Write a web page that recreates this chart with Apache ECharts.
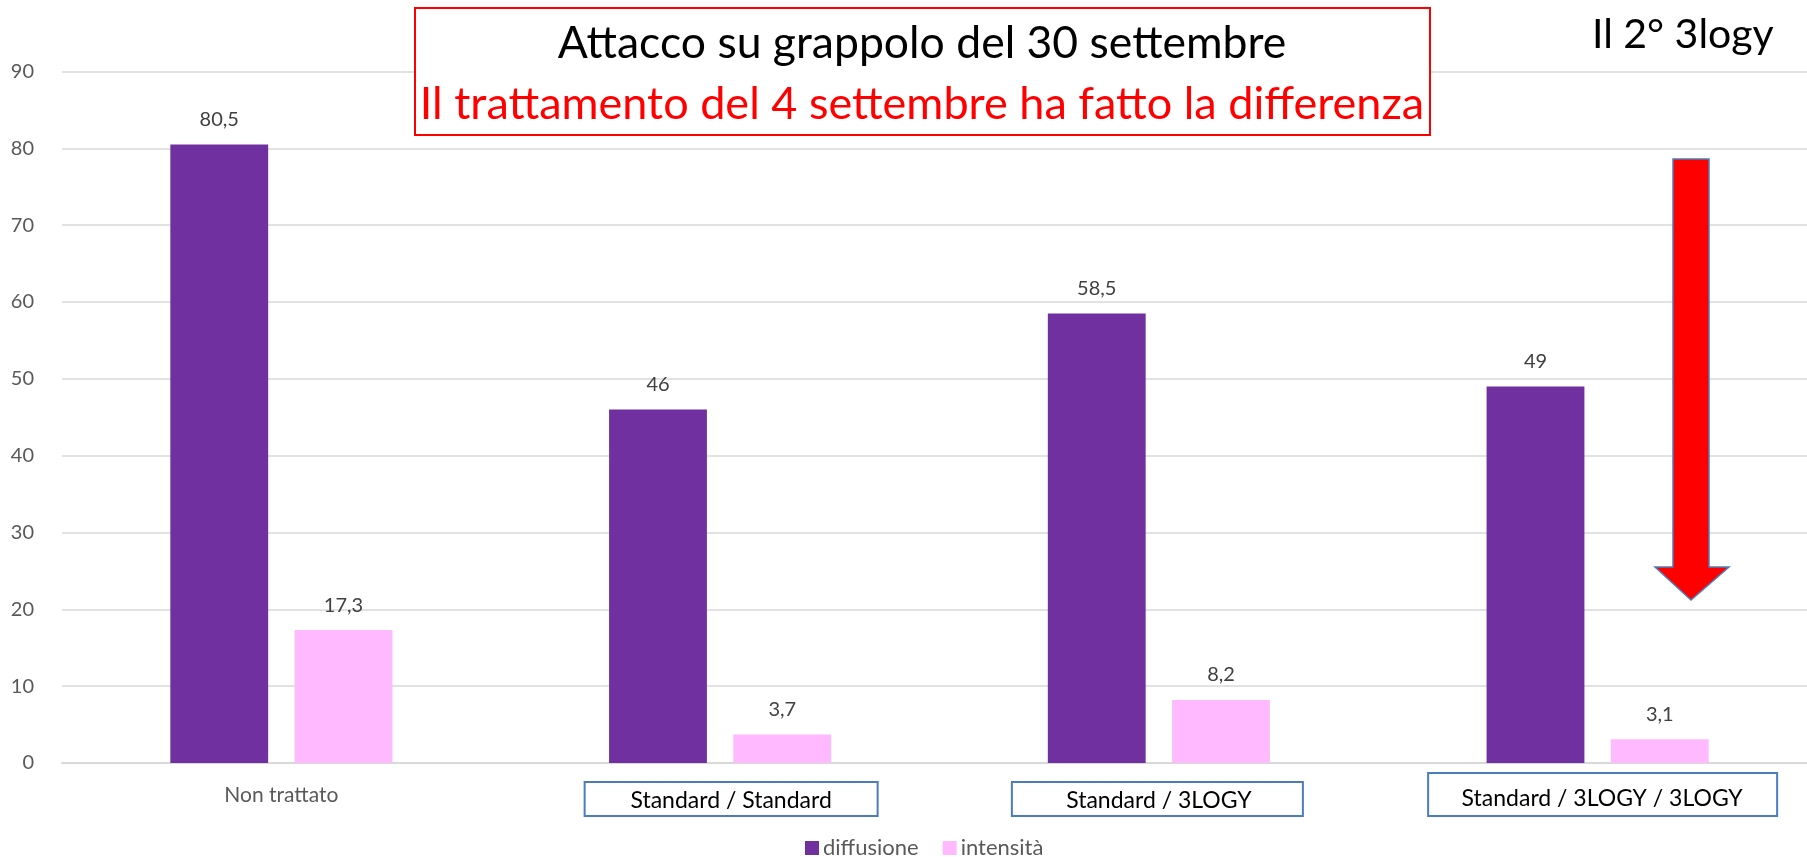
<!DOCTYPE html>
<html>
<head>
<meta charset="utf-8">
<script src="https://cdn.jsdelivr.net/npm/echarts@6/dist/echarts.min.js"></script>
<style>
  html, body { margin: 0; padding: 0; background: #fff; }
  #main { width: 1807px; height: 857px; }
</style>
</head>
<body>
<div id="main"></div>
<script>
// dati
var categorie = ['Non trattato', 'Standard / Standard', 'Standard / 3LOGY', 'Standard / 3LOGY / 3LOGY'];
var diffusione = [80.5, 46, 58.5, 49];
var intensita = [17.3, 3.7, 8.2, 3.1];
var yTicks = [0, 10, 20, 30, 40, 50, 60, 70, 80, 90];

var FONT = 'Lato, "Open Sans", sans-serif';

function virgola(p) {
    return String(p.value).replace('.', ',');
}

// etichette asse x: la prima grigia, le altre nere (riquadro disegnato a parte)
function etichetta(val, idx) {
    if (idx == 0) return '{plain|' + val + '}';
    if (idx == 1) return '{sp1| }{box|' + val + '}';
    if (idx == 2) return '{box|' + val + '}';
    return '{sp3| }{big|' + val + '}';
}

var chart = echarts.init(document.getElementById('main'));
var option = {
    backgroundColor: '#fff',
    textStyle: { fontFamily: FONT },
    animation: false,
    grid: { left: 62, top: 71.5, width: 1755, bottom: 94, containLabel: false, outerBoundsMode: 'none' },
    legend: {
        data: ['diffusione', 'intensità'],
        left: 805, top: 837, padding: 0,
        itemWidth: 14, itemHeight: 14, itemGap: 24,
        icon: 'rect',
        textStyle: { fontSize: 22, color: '#595959', fontFamily: FONT, padding: [0, 0, 0, -1] }
    },
    xAxis: {
        type: 'category',
        data: categorie,
        axisLine: { lineStyle: { color: '#d9d9d9', width: 2 } },
        axisTick: { show: false },
        axisLabel: {
            interval: 0,
            margin: 20,
            verticalAlign: 'top',
            formatter: etichetta,
            rich: {
                plain: { fontSize: 21, color: '#595959', fontFamily: FONT, lineHeight: 24 },
                sp1: { width: 22, lineHeight: 36 },
                sp3: { width: 9, lineHeight: 32 },
                box: { fontSize: 23, color: '#000', fontFamily: FONT, lineHeight: 36 },
                big: { fontSize: 23, color: '#000', fontFamily: FONT, lineHeight: 32 }
            }
        }
    },
    yAxis: {
        type: 'value',
        min: yTicks[0],
        max: yTicks[yTicks.length - 1],
        interval: 10,
        axisLine: { show: false },
        axisTick: { show: false },
        axisLabel: { fontSize: 20, color: '#595959', margin: 28, fontFamily: FONT },
        splitLine: { lineStyle: { color: '#d9d9d9', width: 1.5 } }
    },
    series: [
        {
            name: 'diffusione',
            type: 'bar',
            data: diffusione,
            barWidth: '22.3%',
            barGap: '27%',
            itemStyle: { color: '#7030a0' },
            label: { show: true, position: 'top', distance: 15, fontSize: 20, color: '#404040', fontFamily: FONT, formatter: virgola }
        },
        {
            name: 'intensità',
            type: 'bar',
            data: intensita,
            barWidth: '22.3%',
            barGap: '27%',
            itemStyle: { color: '#ffb9ff' },
            label: { show: true, position: 'top', distance: 15, fontSize: 20, color: '#404040', fontFamily: FONT, formatter: virgola }
        }
    ]
};
chart.setOption(option);

// riquadri blu attorno alle etichette (posizione dal centro della categoria)
var riquadri = [
    { cat: 1, dx: 11, w: 293, top: 782, h: 34 },
    { cat: 2, dx: -1.5, w: 291, top: 782, h: 34 },
    { cat: 3, dx: 5, w: 349, top: 773, h: 43 }
];
var graf = [
    {
        type: 'rect',
        shape: { x: 415, y: 8, width: 1015, height: 127 },
        style: { fill: '#fff', stroke: '#ff0000', lineWidth: 2 },
        z: 10
    },
    {
        type: 'text', x: 922, y: 44, z: 11,
        style: { text: 'Attacco su grappolo del 30 settembre', fill: '#000', font: '44.5px ' + FONT, align: 'center', verticalAlign: 'middle' }
    },
    {
        type: 'text', x: 922, y: 104, z: 11,
        style: { text: 'Il trattamento del 4 settembre ha fatto la differenza', fill: '#ff0000', font: '45px ' + FONT, align: 'center', verticalAlign: 'middle' }
    },
    {
        type: 'text', x: 1592, y: 35, z: 11,
        style: { text: 'Il 2° 3logy', fill: '#000', font: '41px ' + FONT, align: 'left', verticalAlign: 'middle' }
    },
    {
        type: 'polygon', z: 10,
        shape: { points: [[1673, 159], [1709, 159], [1709, 567], [1729, 567], [1691, 600], [1655, 567], [1673, 567]] },
        style: { fill: '#ff0000', stroke: '#4a7ebb', lineWidth: 1.5 }
    }
];
for (var i = 0; i < riquadri.length; i++) {
    var r = riquadri[i];
    var cx = chart.convertToPixel({ xAxisIndex: 0 }, categorie[r.cat]);
    graf.push({
        type: 'rect', z: 5,
        shape: { x: cx + r.dx - r.w / 2, y: r.top, width: r.w, height: r.h },
        style: { fill: 'none', stroke: '#4a7ebb', lineWidth: 2 }
    });
}
chart.setOption({ graphic: graf });
</script>
</body>
</html>
